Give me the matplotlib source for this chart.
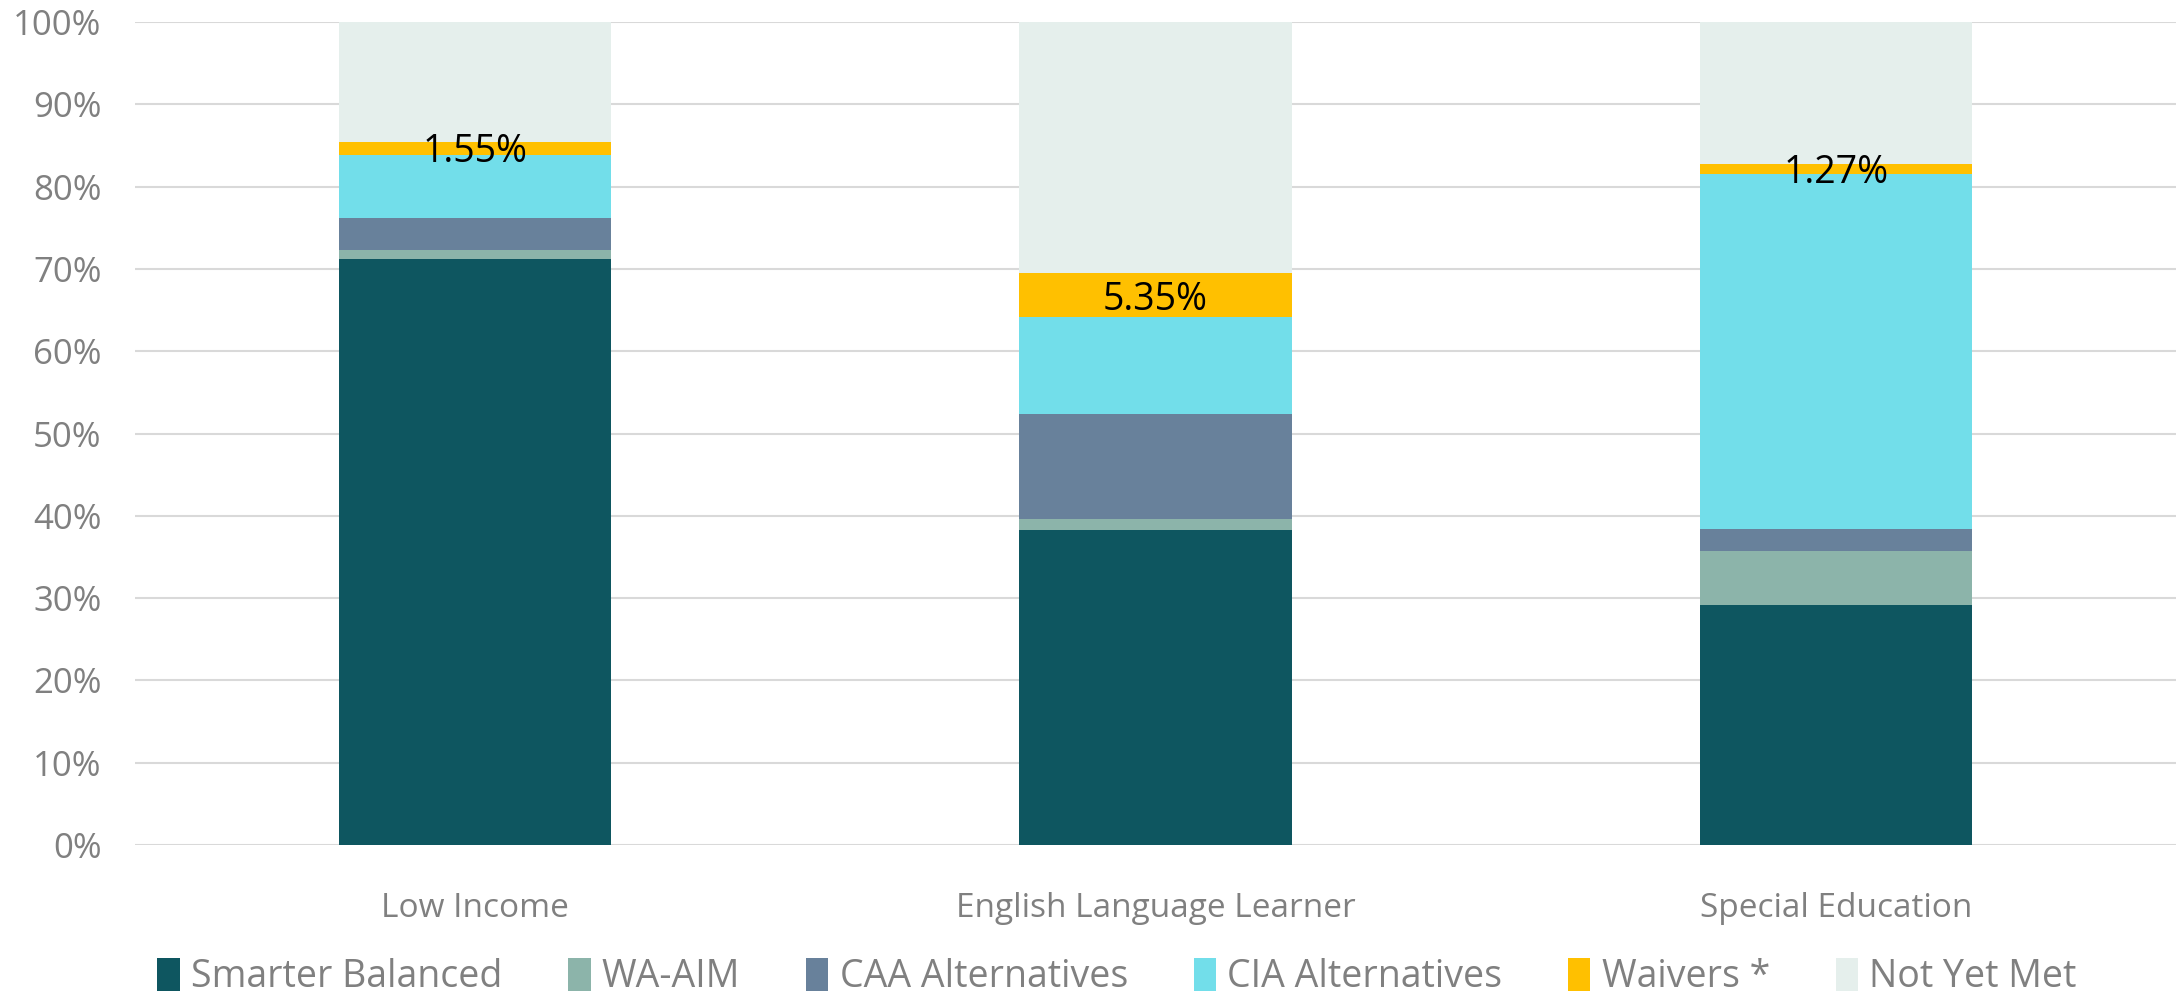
import numpy as np
import matplotlib.pyplot as plt
from matplotlib.ticker import PercentFormatter

plt.rcParams['font.family'] = ['Open Sans', 'DejaVu Sans']

# ============================================================
# 資料（百分比）
# ============================================================
categories = ['Low Income', 'English Language Learner', 'Special Education']

smarter_balanced = [71.2, 38.3, 29.2]
wa_aim           = [1.1, 1.3, 6.5]
caa_alt          = [3.9, 12.8, 2.7]
cia_alt          = [7.7, 11.7, 43.1]
waivers          = [1.55, 5.35, 1.27]
not_yet_met      = [14.55, 30.55, 17.23]

series_names  = ['Smarter Balanced', 'WA-AIM', 'CAA Alternatives',
                 'CIA Alternatives', 'Waivers *', 'Not Yet Met']
series_vals   = [smarter_balanced, wa_aim, caa_alt, cia_alt, waivers, not_yet_met]
series_colors = ['#0E5660', '#8CB4AA', '#68819B', '#72DEEA', '#FFC000', '#E5EFEC']

GRAY = '#808080'

# ============================================================
# 繪圖
# ============================================================
fig = plt.figure(figsize=(21.83, 9.97), dpi=100)
ax = fig.add_axes([135 / 2183, 1 - 845 / 997, (2176 - 135) / 2183, (845 - 22) / 997])

x = np.arange(len(categories))
bottom = np.zeros(len(categories))
handles = []
for name, vals, col in zip(series_names, series_vals, series_colors):
    vals = np.array(vals)
    bars = ax.bar(x, vals, 0.4, bottom=bottom, color=col, label=name,
                  linewidth=0, zorder=3)
    if name == 'Waivers *':
        for xi, b, v in zip(x, bottom, vals):
            ax.text(xi, b + v / 2 - 0.5, f'{v:.2f}%', ha='center', va='center',
                    fontsize=27, color='black', zorder=4)
    handles.append(bars)
    bottom += vals

ax.set_xlim(-0.5, 2.5)
ax.set_ylim(0, 100)
ax.set_yticks(np.arange(0, 101, 10))
ax.yaxis.set_major_formatter(PercentFormatter(decimals=0))
ax.set_xticks(x)
ax.set_xticklabels(categories)
ax.tick_params(axis='both', length=0, colors=GRAY)
ax.tick_params(axis='y', labelsize=25, pad=24)
ax.tick_params(axis='x', labelsize=24, pad=34)
ax.grid(True, axis='y', color='#D9D9D9', linewidth=1.5, zorder=0)
for s in ax.spines.values():
    s.set_visible(False)

leg = fig.legend(handles=handles, labels=series_names, loc='center',
                 bbox_to_anchor=(1117 / 2183, 1 - 977 / 997), ncol=6,
                 frameon=False, fontsize=27, handlelength=0.6, handleheight=1.0,
                 handletextpad=0.3, columnspacing=1.75)
for t in leg.get_texts():
    t.set_color(GRAY)

fig.savefig('out.png', dpi=100)
